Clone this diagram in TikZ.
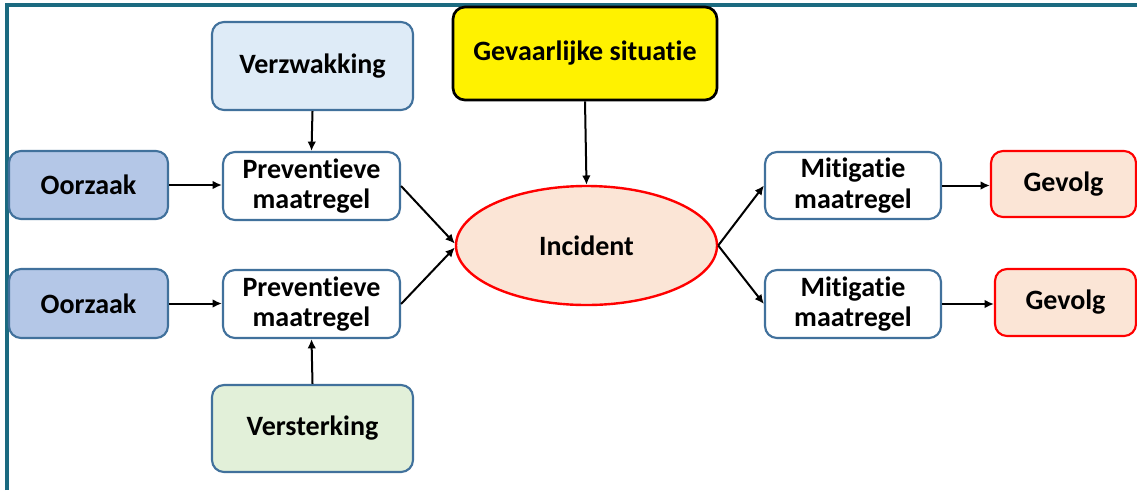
\documentclass[tikz,border=0pt]{standalone}
\usepackage{fontspec}
\setmainfont[Ligatures=NoCommon]{Carlito}
\usetikzlibrary{arrows.meta,shapes.geometric}
\definecolor{frame}{HTML}{1B6A80}
\definecolor{steel}{HTML}{41719C}
\definecolor{oorfill}{HTML}{B4C7E7}
\definecolor{verzfill}{HTML}{DEEBF7}
\definecolor{versfill}{HTML}{E2F0D9}
\definecolor{peach}{HTML}{FBE5D6}
\tikzset{
  lbl/.style={font=\fontsize{21}{23}\selectfont\bfseries},
  box/.style={draw=steel, line width=1.6pt, rounded corners=9pt, align=center, lbl, inner sep=0pt},
  redbox/.style={box, draw=red, fill=peach},
  conn/.style={line width=1.5pt, -{Latex[length=7pt,width=6.5pt]}}
}
\begin{document}
\begin{tikzpicture}[x=0.75pt,y=-0.75pt]
\useasboundingbox (0,0) rectangle (1137,490);
\fill[white] (0,0) rectangle (1137,490);
\draw[frame, line width=2.4pt] (7,490) -- (7,5) -- (1137,5);

\node[box, fill=verzfill, minimum width=201*0.75pt, minimum height=88*0.75pt] (verz) at (312.5,66) {Verzwakking};
\node[box, draw=black, fill=yellow, line width=2pt, minimum width=264*0.75pt, minimum height=93*0.75pt] (gev) at (585,53.5) {Gevaarlijke situatie};
\node[box, fill=oorfill, minimum width=159*0.75pt, minimum height=68*0.75pt] (oor1) at (88.5,185) {Oorzaak};
\node[box, fill=white, minimum width=177*0.75pt, minimum height=68*0.75pt] (prev1) at (311.5,186) {Preventieve\\maatregel};
\node[ellipse, draw=red, fill=peach, line width=1.8pt, minimum width=261*0.75pt, minimum height=119*0.75pt, inner sep=0pt, lbl] (inc) at (586.5,245.5) {Incident};
\node[box, fill=oorfill, minimum width=159*0.75pt, minimum height=69*0.75pt] (oor2) at (88.5,303.5) {Oorzaak};
\node[box, fill=white, minimum width=177*0.75pt, minimum height=68*0.75pt] (prev2) at (311.5,304) {Preventieve\\maatregel};
\node[box, fill=versfill, minimum width=201*0.75pt, minimum height=87*0.75pt] (vers) at (312.5,428.5) {Versterking};
\node[box, fill=white, minimum width=176*0.75pt, minimum height=67*0.75pt] (mit1) at (853,185.5) {Mitigatie\\maatregel};
\node[box, fill=white, minimum width=176*0.75pt, minimum height=68*0.75pt] (mit2) at (853,304) {Mitigatie\\maatregel};
\node[redbox, minimum width=145*0.75pt, minimum height=66*0.75pt] (gvl1) at (1063.5,184) {Gevolg};
\node[redbox, minimum width=141*0.75pt, minimum height=67*0.75pt] (gvl2) at (1065.5,302.5) {Gevolg};

\draw[conn] (oor1.east) -- (prev1.west |- oor1.east);
\draw[conn] (oor2.east) -- (prev2.west |- oor2.east);
\draw[conn] (verz.south) -- (prev1.north);
\draw[conn] (vers.north) -- (prev2.south);
\draw[conn] (gev.south) -- (inc.north);
\draw[conn] (prev1.east) -- ([yshift=1.5pt]inc.west);
\draw[conn] (prev2.east) -- ([yshift=-1.5pt]inc.west);
\draw[conn] (inc.east) -- (mit1.west);
\draw[conn] (inc.east) -- (mit2.west);
\draw[conn] (mit1.east) -- (gvl1.west |- mit1.east);
\draw[conn] (mit2.east) -- (gvl2.west |- mit2.east);
\end{tikzpicture}
\end{document}
